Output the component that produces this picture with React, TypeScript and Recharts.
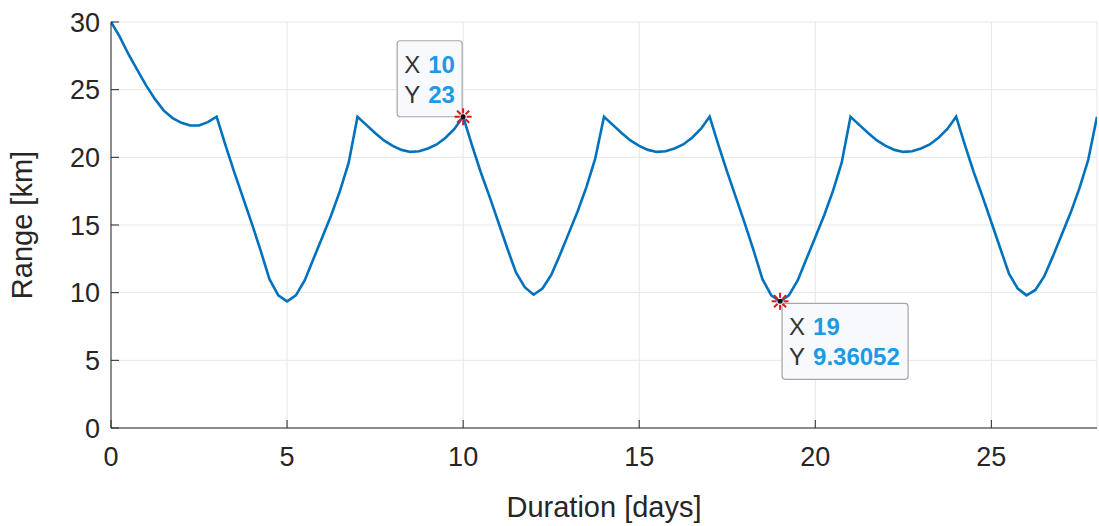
import {
    LineChart,
    Line,
    XAxis,
    YAxis,
    CartesianGrid,
    ReferenceDot,
} from "recharts";

// Duration [days]
const days = [
    0, 0.25, 0.5, 0.75, 1, 1.25, 1.5, 1.75, 2, 2.25, 2.5, 2.75,
    3, 3.25, 3.5, 3.75, 4, 4.25, 4.5, 4.75, 5, 5.25, 5.5, 5.75,
    6, 6.25, 6.5, 6.75, 7, 7.25, 7.5, 7.75, 8, 8.25, 8.5, 8.75,
    9, 9.25, 9.5, 9.75, 10, 10.25, 10.5, 10.75, 11, 11.25, 11.5, 11.75,
    12, 12.25, 12.5, 12.75, 13, 13.25, 13.5, 13.75, 14, 14.25, 14.5, 14.75,
    15, 15.25, 15.5, 15.75, 16, 16.25, 16.5, 16.75, 17, 17.25, 17.5, 17.75,
    18, 18.25, 18.5, 18.75, 19, 19.25, 19.5, 19.75, 20, 20.25, 20.5, 20.75,
    21, 21.25, 21.5, 21.75, 22, 22.25, 22.5, 22.75, 23, 23.25, 23.5, 23.75,
    24, 24.25, 24.5, 24.75, 25, 25.25, 25.5, 25.75, 26, 26.25, 26.5, 26.75,
    27, 27.25, 27.5, 27.75, 28,
];

// Range [km]
const range = [
    30, 28.9, 27.6, 26.45, 25.3, 24.3, 23.45, 22.9, 22.55, 22.35, 22.35, 22.6,
    23, 20.9, 18.9, 17.0, 15.1, 13.1, 11.0, 9.8, 9.36, 9.8, 10.9, 12.5,
    14.1, 15.7, 17.5, 19.6, 23, 22.4, 21.8, 21.25, 20.85, 20.55, 20.4, 20.45,
    20.65, 20.95, 21.45, 22.1, 23, 20.9, 18.9, 17.1, 15.2, 13.3, 11.5, 10.4,
    9.85, 10.3, 11.3, 12.8, 14.4, 16.0, 17.8, 19.9, 23, 22.4, 21.8, 21.25,
    20.85, 20.55, 20.4, 20.45, 20.65, 20.95, 21.45, 22.1, 23, 20.9, 18.9, 17.0,
    15.1, 13.1, 11.0, 9.8, 9.36052, 9.8, 10.9, 12.5, 14.1, 15.7, 17.5, 19.6,
    23, 22.4, 21.8, 21.25, 20.85, 20.55, 20.4, 20.45, 20.65, 20.95, 21.45, 22.1,
    23, 20.9, 18.9, 17.1, 15.2, 13.3, 11.4, 10.3, 9.8, 10.2, 11.2, 12.7,
    14.3, 15.9, 17.7, 19.8, 23,
];

const xTicks = [0, 5, 10, 15, 20, 25];
const yTicks = [0, 5, 10, 15, 20, 25, 30];

const dataTips = [
    { day: 10, range: 23, side: "upLeft" },
    { day: 19, range: 9.36052, side: "downRight" },
];

const data = days.map((d, i) => ({ day: d, range: range[i] }));

const FONT = "'Liberation Sans', Arial, Helvetica, sans-serif";
const AXIS = "#262626";
const tickStyle = { fontSize: 27, fill: AXIS, fontFamily: FONT };

const DataTip = (props: any) => {
    const { cx, cy, tip } = props;
    const labelX = String(tip.day);
    const labelY = String(tip.range);
    const boxW = tip.side === "upLeft" ? 65 : 126;
    const boxH = 76;
    const bx = tip.side === "upLeft" ? cx - boxW - 1 : cx + 2;
    const by = tip.side === "upLeft" ? cy - boxH : cy + 2;
    const spokes = [0, 45, 90, 135, 180, 225, 270, 315];
    return (
        <g>
            <rect x={bx} y={by} width={boxW} height={boxH} rx={3} fill="#f8f9fc" stroke="#a6a6a6" strokeWidth={1.2} />
            <text x={bx + 7} y={by + 32} fontSize={24} fontFamily={FONT} fill="#333">X</text>
            <text x={bx + 31} y={by + 32} fontSize={24} fontFamily={FONT} fill="#1a9be6" fontWeight="bold">{labelX}</text>
            <text x={bx + 7} y={by + 62} fontSize={24} fontFamily={FONT} fill="#333">Y</text>
            <text x={bx + 31} y={by + 62} fontSize={24} fontFamily={FONT} fill="#1a9be6" fontWeight="bold">{labelY}</text>
            {spokes.map(a => {
                const r = (a * Math.PI) / 180;
                return (
                    <line
                        key={a}
                        x1={cx + Math.cos(r) * 3.5}
                        y1={cy + Math.sin(r) * 3.5}
                        x2={cx + Math.cos(r) * 8.5}
                        y2={cy + Math.sin(r) * 8.5}
                        stroke="#d7191c"
                        strokeWidth={2}
                    />
                );
            })}
            <circle cx={cx} cy={cy} r={2.5} fill="#111" />
        </g>
    );
};

const App = () => {
    return (
        <div style={{ position: "absolute", left: 0, top: 0, background: "#fff", fontFamily: FONT }}>
            <LineChart
                width={1099}
                height={526}
                data={data}
                margin={{ top: 22, right: 2, bottom: 0, left: 0 }}
            >
                <CartesianGrid stroke="#e6e6e6" strokeWidth={1} />
                <XAxis
                    dataKey="day"
                    type="number"
                    domain={[0, 28]}
                    ticks={xTicks}
                    allowDataOverflow
                    height={98}
                    tickSize={-8}
                    tickMargin={27}
                    tick={tickStyle}
                    stroke={AXIS}
                    label={{ value: "Duration [days]", position: "insideBottom", offset: 9, fontSize: 29, fill: AXIS, fontFamily: FONT }}
                />
                <XAxis
                    xAxisId="top"
                    orientation="top"
                    dataKey="day"
                    type="number"
                    domain={[0, 28]}
                    ticks={xTicks}
                    height={0}
                    tickSize={-8}
                    tickFormatter={() => ""}
                    stroke={AXIS}
                />
                <YAxis
                    type="number"
                    domain={[0, 30]}
                    ticks={yTicks}
                    width={111}
                    tickSize={-8}
                    tickMargin={19}
                    tick={tickStyle}
                    stroke={AXIS}
                    label={{ value: "Range [km]", angle: -90, position: "insideLeft", offset: 22, fontSize: 29, fill: AXIS, fontFamily: FONT, style: { textAnchor: "middle" } }}
                />
                <YAxis
                    yAxisId="right"
                    orientation="right"
                    type="number"
                    domain={[0, 30]}
                    ticks={yTicks}
                    width={0}
                    tickSize={-8}
                    tickFormatter={() => ""}
                    stroke={AXIS}
                />
                <Line
                    type="linear"
                    dataKey="range"
                    stroke="#0072BD"
                    strokeWidth={2.6}
                    dot={false}
                    isAnimationActive={false}
                />
                {dataTips.map(t => (
                    <ReferenceDot
                        key={t.day}
                        x={t.day}
                        y={t.range}
                        ifOverflow="visible"
                        shape={(p: any) => <DataTip {...p} tip={t} />}
                    />
                ))}
            </LineChart>
        </div>
    );
};

export default App;
